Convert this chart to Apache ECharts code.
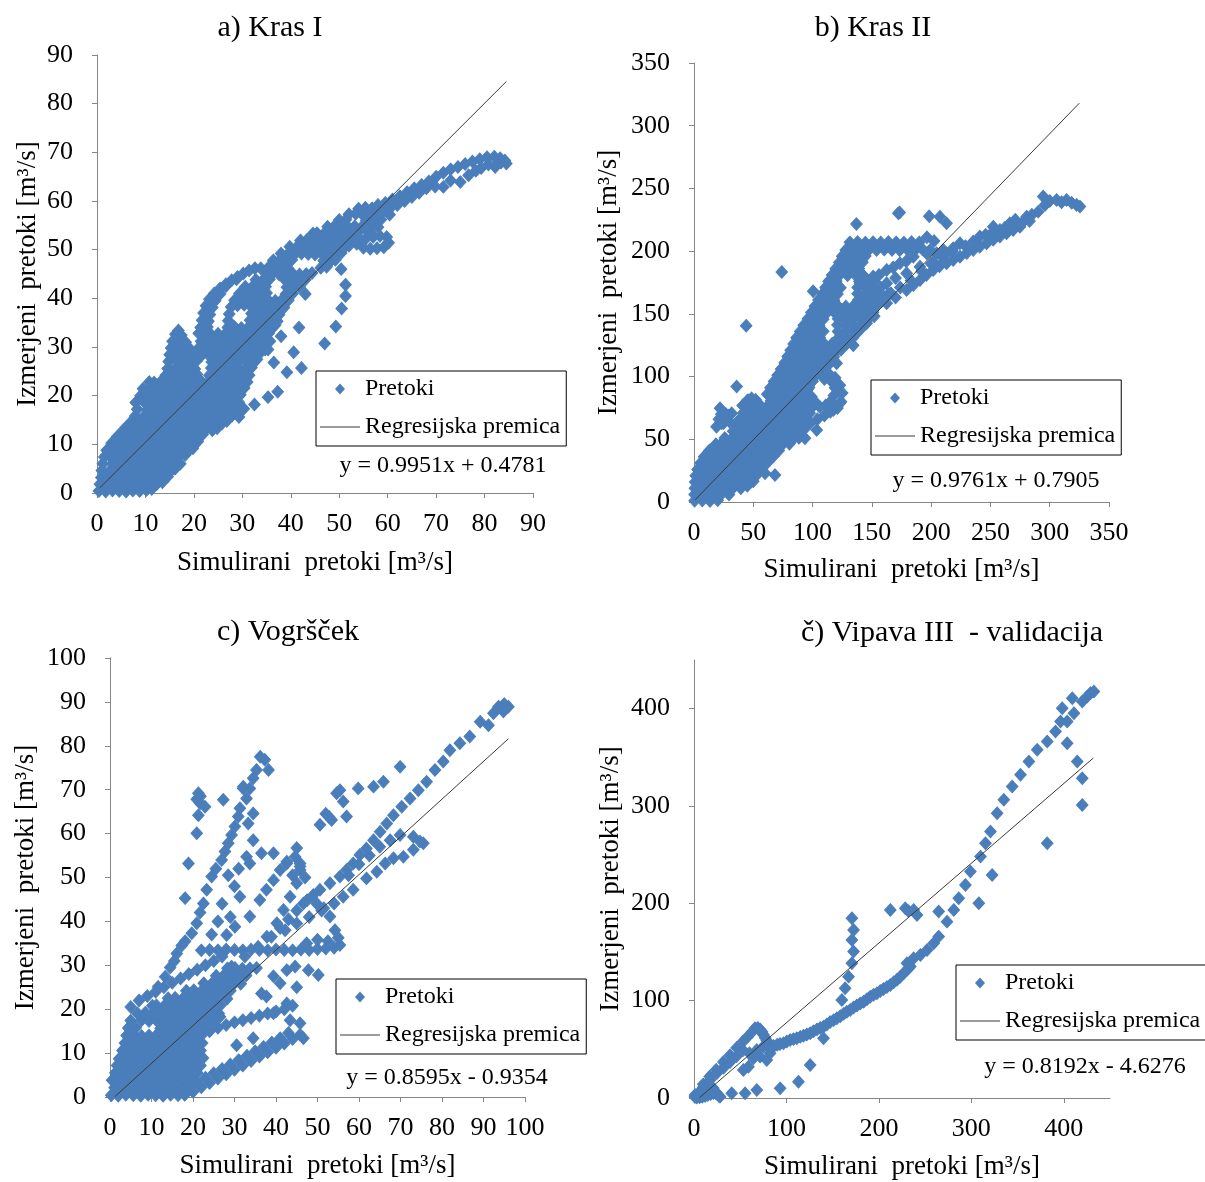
<!DOCTYPE html>
<html>
<head>
<meta charset="utf-8">
<script src="https://cdn.jsdelivr.net/npm/echarts@6/dist/echarts.min.js"></script>
<style>
  html, body { margin: 0; background: #fff; }
  #chart { width: 1205px; height: 1182px; }
</style>
</head>
<body>
<div id="chart"></div>
<script>
const krasI = [
  [0.4,0.4],[1.8,0.3],[3.2,0.5],[4.6,0.4],[6,0.3],[7.4,0.5],[8.8,0.4],[10.2,0.6],[11.3,0.8],
  [0.6,1.8],[1.3,1.6],[2.5,1.9],[3.9,1.8],[5.3,1.7],[6.7,1.9],[8.1,1.8],[9.5,1.7],[10.9,1.9],[12.3,1.8],[13.5,2.2],
  [0.9,3.2],[2,3.1],[3.4,3.3],[4.8,3.2],[6.2,3.1],[7.6,3.3],[9,3.2],[10.4,3.1],[11.8,3.3],[13.2,3.2],[14.6,3.4],
  [1,4.6],[2.6,4.5],[4,4.7],[5.4,4.6],[6.8,4.5],[8.2,4.7],[9.6,4.6],[11,4.5],[12.4,4.7],[13.8,4.6],[15.2,4.5],[16.1,5],
  [1.2,6],[3.2,6.1],[4.6,5.9],[6,6],[7.4,6.1],[8.8,5.9],[10.2,6],[11.6,6.1],[13,5.9],[14.4,6],[15.8,6.1],[17.2,6],
  [1.5,7.4],[2.9,7.3],[4.3,7.5],[5.7,7.4],[7.1,7.3],[8.5,7.5],[9.9,7.4],[11.3,7.3],[12.7,7.5],[14.1,7.4],[15.5,7.3],[16.9,7.5],[18.2,7.8],
  [2,8.8],[3.6,8.9],[5,8.7],[6.4,8.8],[7.8,8.9],[9.2,8.7],[10.6,8.8],[12,8.9],[13.4,8.7],[14.8,8.8],[16.2,8.9],[17.6,8.7],[19,8.8],[19.8,9.2],
  [3,10.2],[4.4,10.1],[5.8,10.3],[7.2,10.2],[8.6,10.1],[10,10.3],[11.4,10.2],[12.8,10.1],[14.2,10.3],[15.6,10.2],[17,10.1],[18.4,10.3],[19.8,10.2],[20.8,10.6],
  [4.2,11.6],[5.1,11.7],[6.5,11.5],[7.9,11.6],[9.3,11.7],[10.7,11.5],[12.1,11.6],[13.5,11.7],[14.9,11.5],[16.3,11.6],[17.7,11.7],[19.1,11.5],[20.5,11.6],[21.8,12],
  [5.5,13],[7,12.9],[8.4,13.1],[9.8,13],[11.2,12.9],[12.6,13.1],[14,13],[15.4,12.9],[16.8,13.1],[18.2,13],[19.6,12.9],[21,13.1],[22.4,13],[23.8,12.9],[24.8,13.3],
  [6.8,14.4],[7.6,14.5],[9,14.3],[10.4,14.4],[11.8,14.5],[13.2,14.3],[14.6,14.4],[16,14.5],[17.4,14.3],[18.8,14.4],[20.2,14.5],[21.6,14.3],[23,14.4],[24.4,14.5],[25.8,14.3],[26.8,14.8],
  [7.9,15.8],[9.7,15.7],[11.1,15.9],[12.5,15.8],[13.9,15.7],[15.3,15.9],[16.7,15.8],[18.1,15.7],[19.5,15.9],[20.9,15.8],[22.3,15.7],[23.7,15.9],[25.1,15.8],[26.5,15.7],[27.9,15.9],[29.3,15.6],
  [8.3,17.2],[10.4,17.1],[11.8,17.3],[13.2,17.2],[14.6,17.1],[16,17.3],[17.4,17.2],[18.8,17.1],[20.2,17.3],[21.6,17.2],[23,17.1],[24.4,17.3],[25.8,17.2],[27.2,17.1],[28.6,17.3],[30,17.2],
  [8,18.6],[9.7,18.7],[11.1,18.5],[12.5,18.6],[13.9,18.7],[15.3,18.5],[16.7,18.6],[18.1,18.7],[19.5,18.5],[20.9,18.6],[22.3,18.7],[23.7,18.5],[25.1,18.6],[26.5,18.7],[27.9,18.5],[29.3,18.6],
  [9,20],[10.4,20.1],[11.8,19.9],[13.2,20],[14.6,20.1],[16,19.9],[17.4,20],[18.8,20.1],[20.2,19.9],[21.6,20],[23,20.1],[24.4,19.9],[25.8,20],[27.2,20.1],[28.6,19.9],[29.6,20.2],
  [9.5,21.4],[11.1,21.5],[12.5,21.3],[13.9,21.4],[15.3,21.5],[16.7,21.3],[18.1,21.4],[19.5,21.5],[20.9,21.3],[22.3,21.4],[23.7,21.5],[25.1,21.3],[26.5,21.4],[27.9,21.5],[29.3,21.3],[30.4,21.6],
  [10.8,22.8],[11.8,22.7],[13.2,22.9],[14.6,22.8],[16,22.7],[17.4,22.9],[18.8,22.8],[20.2,22.7],[21.6,22.9],[23,22.8],[24.4,22.7],[25.8,22.9],[27.2,22.8],[28.6,22.7],[30,22.9],[31,22.8],
  [14.2,24.2],[15.4,24.1],[16.8,24.3],[18.2,24.2],[19.6,24.1],[20.6,24.4],[23.2,24.2],[24.6,24.1],[26,24.3],[27.4,24.2],[28.8,24.1],[30.2,24.3],[31.4,24.2],
  [14.6,25.6],[16,25.5],[17.4,25.7],[18.8,25.6],[20.2,25.5],[23.6,25.7],[25,25.6],[26.4,25.5],[27.8,25.7],[29.2,25.6],[30.6,25.5],[31.9,25.8],
  [14.8,27],[16.7,27.1],[18.1,26.9],[19.5,27],[20.6,27.2],[23.7,26.9],[25.1,27],[26.5,27.1],[27.9,26.9],[29.3,27],[30.7,27.1],[32.1,27],[32.8,27.3],
  [15,28.4],[16,28.5],[17.4,28.3],[18.8,28.4],[20.2,28.5],[21.6,28.3],[23,28.4],[24.4,28.5],[25.8,28.3],[27.2,28.4],[28.6,28.5],[30,28.3],[31.4,28.4],[32.8,28.5],[33.6,28.7],
  [15.3,29.8],[16.6,29.7],[18,29.9],[19.2,29.6],[21,29.8],[22.4,29.7],[23.8,29.9],[25.2,29.8],[26.6,29.7],[28,29.9],[29.4,29.8],[30.8,29.7],[32.2,29.9],[33.8,29.8],
  [15.6,31.2],[17,31.1],[18.3,31],[21.5,31.2],[22.9,31.1],[24.3,31.3],[25.7,31.2],[27.1,31.1],[28.5,31.3],[29.9,31.2],[31.3,31.1],[32.7,31.3],[34.1,31.2],[35,31.4],
  [16.2,32.6],[17.4,32.4],[21,32.8],[22.2,32.6],[23.6,32.5],[25,32.7],[26.4,32.6],[27.8,32.5],[29.2,32.7],[30.6,32.6],[32,32.5],[33.4,32.7],[34.8,32.6],[35.5,32.9],
  [16.8,33.4],
  [21.4,34],[22.8,34.1],[27,34],[28.4,34.1],[29.8,33.9],[31.2,34],[32.6,34.1],[34,33.9],[35.4,34],[36.4,34.2],
  [21.7,35.5],[23,35.3],[27.1,35.4],[31.6,35.5],[33,35.3],[34.4,35.4],[35.8,35.5],[37.2,35.3],
  [22,37],[23.3,36.7],[27.3,36.8],[31.9,36.9],[33.3,36.7],[34.7,36.8],[36.1,36.9],[37.6,36.7],
  [22.5,38.5],[23.8,38.1],[27.7,38.2],[29,38.6],[30.4,38.7],[31.8,38.3],[33.2,38.2],[34.6,38.1],[36,38.3],[37.4,38.2],[38.6,38.1],
  [23.2,39.8],[24.4,39.5],[28.4,39.6],[29.8,39.7],[31.2,39.6],[32.6,39.5],[34,39.7],[35.4,39.6],[36.8,39.5],[38.2,39.7],[39.5,39.6],
  [24.2,41],[25.4,40.9],[29.4,41],[30.8,41.1],[32.2,40.9],[33.6,41],[35,41.1],[39,40.9],[40.4,41],
  [25.4,42],[26.6,42.5],[30.6,42.4],[32,42.3],[33.4,42.5],[34.8,42.4],[39.2,42.3],[40.6,42.5],[41.8,42.4],
  [26.6,42.9],[27.8,43.7],[28.8,43.9],[32.8,43.8],[34.2,43.7],[35.6,43.9],[38.8,43.8],[40.2,43.7],[41.6,43.9],[43,43.8],
  [29,44.4],[30.2,45.1],[31.4,45.7],[32.6,46.2],[33.8,46.2],[34.8,45.4],[36.2,45.1],[37.6,44.9],[39,45],[40.4,45.1],[41.8,44.9],[43.2,45],[44.4,45.2],
  [35.6,46.6],[36.8,46.3],[38.2,46.4],[39.4,46.2],[46.2,46.3],[47.4,46.5],
  [36.4,47.8],[37.6,47.7],[39,47.6],[40.2,47.9],[46.8,47.7],[48.2,47.6],[49.2,47.9],
  [38,49.2],[39.4,49.1],[40.8,49],[42.2,49.2],[43.6,49.1],[45,49],[46.4,49.2],[47.8,49.1],[49.2,49],[50.4,49.3],
  [39.8,50.6],[41.2,50.5],[42.6,50.4],[44,50.6],[45.4,50.5],[46.8,50.4],[48.2,50.6],[49.6,50.5],[51,50.4],[52,50.8],
  [42,51.9],[43.3,52],[44.7,51.8],[46.1,51.9],[47.5,52],[48.9,51.8],[50.3,51.9],[51.7,52],[53.1,51.9],
  [44.6,53.3],[45.4,53.4],[46.8,53.2],[48.2,53.3],[49.6,53.4],[51,53.2],[52.4,53.3],[53.8,53.5],
  [47.6,54.7],[49,54.8],[50.4,54.6],[51.8,54.7],[53.2,54.8],[54.6,54.6],[55.8,54.9],
  [50,56.1],[51.4,56.2],[55.6,56],[56.8,56.2],
  [52,57.3],[53.4,57.4],[54.8,57.2],[56.2,57.3],[57.4,57.5],
  [54,58.4],[55.4,58.6],[56.8,58.5],
  [53.6,51.2],[55,50.4],[56.4,50.2],[57.8,50.3],[59.2,50.5],[60.2,51.4],[59.8,52.6],[58.4,52.8],[57,52.6],[55.6,52.4],[54.2,52.3],
  [55.5,54.2],[57,55.2],[58.6,56.2],[60.4,57.2],[56.4,53.6],[58,54.6],
  [58,59.2],[59.5,59.6],[61,60.3],[62.5,61],[64,61.8],[65.5,62.6],[67,63.3],[68.5,64],[70,65],[71.5,65.8],
  [73,66.5],[74.5,67],[76,67.6],[77.5,68.1],[79,68.6],[80.5,69],[82,69.1],[83.2,68.8],[84.2,68.3],[84.5,67.7],
  [59,57.8],[60.5,58.5],[62,59.2],[63.5,60],[65,60.8],[66.5,61.7],[68,62.6],[69.8,63],[71.5,62.9],
  [73,64.2],[75,63.9],[76.7,65.3],[78.2,66.2],[79.3,66.8],[80.8,67.5],[82.2,67],[83.4,67.9],
  [43,40.9],[50.4,46],[51.3,42.8],[51.3,40.5],[50.5,37.9],[49.3,34.2],[47,30.7],[40.6,28.9],[42.2,25.7],
  [39.2,24.8],[37.3,20.8],[35.3,19.7],[32.5,18.2],[35.3,29.5],[41.7,34],[34.7,29.5],[35.7,31.2],[30.3,17.3],
  [17.9,8.5],[33,27.5],[36.5,26.8],[38,32.2],[36.8,34.5]
];

const krasII = [
  [0.5,1],[7,1.2],[13.5,0.8],[20,1.3],
  [0.5,6],[3.5,5.8],[10,6.2],[16.5,5.9],[23,6.1],[29.5,6],
  [0.8,11],[7,11.2],[13.5,10.8],[20,11.1],[26.5,10.9],[33,11.2],[39.5,11],
  [1,16],[3.5,16.2],[10,15.8],[16.5,16.1],[23,15.9],[29.5,16.2],[36,16],[42.5,15.8],[48,16.3],
  [1.5,21],[7,21.2],[13.5,20.8],[20,21.1],[26.5,20.9],[33,21.2],[39.5,21],[46,20.8],[52.5,21.2],
  [3,26],[10.5,26.2],[17,25.8],[23.5,26.1],[30,25.9],[36.5,26.2],[43,26],[49.5,25.8],[56,26.2],
  [5.5,31],[13,31.2],[19.5,30.8],[26,31.1],[32.5,30.9],[39,31.2],[45.5,31],[52,30.8],[58.5,31.2],[62,31.5],
  [8.5,36],[16,36.2],[22.5,35.8],[29,36.1],[35.5,35.9],[42,36.2],[48.5,36],[55,35.8],[61.5,36.2],[67,36.4],
  [13,41],[19.5,41.2],[26,40.8],[32.5,41.1],[39,40.9],[45.5,41.2],[52,41],[58.5,40.8],[65,41.2],[71.5,41],
  [18.5,46],[22.8,46.2],[29.3,45.8],[35.8,46.1],[42.3,45.9],[48.8,46.2],[55.3,46],[61.8,45.8],[68.3,46.2],[74.8,46],[80.5,46.5],
  [26,51],[32.5,51.2],[39,50.8],[45.5,51.1],[52,50.9],[58.5,51.2],[65,51],[71.5,50.8],[78,51.2],[84.5,51],[88.5,51.3],
  [33,56.5],[35.8,56],[42.3,56.2],[48.8,55.8],[55.3,56.1],[61.8,55.9],[68.3,56.2],[74.8,56],[81.3,55.8],[87.8,56.2],
  [36.5,61],[39,61.2],[45.5,60.8],[52,61.1],[58.5,60.9],[65,61.2],[71.5,61],[78,60.8],[84.5,61.2],[91,61],
  [38.5,66],[42.3,66.2],[48.8,65.8],[55.3,66.1],[61.8,65.9],[68.3,66.2],[74.8,66],[81.3,65.8],[87.8,66.2],[94.3,66],
  [41.5,71],[45.5,71.2],[52,70.8],[58.5,71.1],[65,70.9],[71.5,71.2],[78,71],[84.5,70.8],[91,71.2],[97.5,71],
  [43.5,76],[48.8,76.2],[55.3,75.8],[61.8,76.1],[68.3,75.9],[74.8,76.2],[81.3,76],[87.8,75.8],[94.3,76.2],[100,76],
  [46,81],[52,81.5],[65,80.8],[71.5,81.1],[78,80.9],[84.5,81.2],[91,81],[97.5,80.8],[100.5,81.5],
  [61.8,86],[68.3,86.2],[74.8,85.8],[81.3,86.1],[87.8,85.9],[94.3,86.2],
  [64.5,91],[71,91.2],[77.5,90.8],[84,91.1],[90.5,90.9],[97,91.2],
  [67.5,96],[74,96.2],[80.5,95.8],[87,96.1],[93.5,95.9],[100,96.2],
  [70.5,101],[77,101.2],[83.5,100.8],[90,101.1],[96.5,100.9],[103,101.2],
  [73.5,106],[80,106.2],[86.5,105.8],[93,106.1],[99.5,105.9],[106,106.2],[110,106.5],
  [76.5,111],[83,111.2],[89.5,110.8],[96,111.1],[102.5,110.9],[109,111.2],[115,111],
  [79,116],[85.5,116.2],[92,115.8],[98.5,116.1],[105,115.9],[111.5,116.2],[118,116],
  [81.5,121],[88,121.2],[94.5,120.8],[101,121.1],[107.5,120.9],[114,121.2],[120.5,121],[124,121.3],
  [84,126],[90.5,126.2],[97,125.8],[103.5,126.1],[110,125.9],[116.5,126.2],[123,126],[129,126.3],
  [86.5,131],[93,131.2],[99.5,130.8],[106,131.1],[122,130.9],[128,131.2],[134,131],
  [89.5,136],[96,136.2],[102.5,135.8],[109,136.1],[121.5,135.9],[128,136.2],[134.5,136],[139,136.3],
  [92.5,141],[99,141.2],[105.5,140.8],[121,141.1],[127.5,140.9],[134,141.2],[140.5,141],[144,141.3],
  [96,146],[102.5,146.2],[109,145.8],[121.5,146.1],[128,145.9],[134.5,146.2],[141,146],[147.5,146.3],
  [99,151],[105.5,151.2],[112,150.8],[118.5,151.1],[125,150.9],[131.5,151.2],[138,151],[144.5,150.8],[151,151.2],
  [102,156],[108.5,156.2],[115,155.8],[121.5,156.1],[128,155.9],[134.5,156.2],[141,156],[147.5,155.8],[154,156.2],
  [105,161],[111.5,161.2],[118,160.8],[138.5,161.1],[145,160.9],[151.5,161.2],[158,161],
  [108.5,166],[115,166.2],[121,165.8],[138,166.1],[144.5,165.9],[151,166.2],[157.5,166],[164,165.8],
  [111,171],[117.5,171.2],[123.5,170.8],[138,171.1],[144.5,170.9],[151,171.2],[157.5,171],
  [113.5,176],[120,176.2],[139.5,175.9],[146,176.2],[152,176],
  [116.5,181],[123,181.2],[129.5,180.8],[136,181.1],[142.5,180.9],
  [119.5,186],[126,186.2],[132.5,185.8],[139,186.1],
  [122.5,191],[129,191.2],[135.5,190.8],[142,191.1],
  [125,196],[131.5,196.2],[138,195.8],[144.5,196.1],
  [128,201],[134.5,201.2],[141,200.8],[147.5,201.1],[154,200.9],[160.5,201.2],[167,201],[173.5,200.8],[180,201.2],[186.5,201],[193,201.2],[199,200.8],
  [131.5,207],[138,207.2],[144.5,206.8],[151,207.1],[157.5,206.9],[164,207.2],[170.5,207],[177,206.8],[183.5,207.2],[190,207],[196.5,211],[202.5,208],
  [140,174.4],[151.2,179.7],[162.5,185],[173.7,190.3],[185,195.6],[196.2,198.3],[145.6,163.7],[152,168],[162.5,174.4],
  [170,178.5],[179.3,182.4],[190.6,187.6],[201.8,191.6],[213,198.3],[156,181],[168,187],[179,192],
  [145.6,142.5],[152,148],[162.5,158.5],[170,163],[179.3,169],[185,173],[190.6,177],[196,181],[201.8,185],[207,188],
  [213,190.3],[218.6,193],[224.3,195.6],[230,198.5],[235.5,201],[241,203.5],[246.8,206.3],[252.4,209],[258,211.6],[263.6,214.3],[269.2,216.9],
  [150,155],[158,160],[166,166.5],[174,171],[183,176.5],[192,184],[200,190],[209,196],[218,200],
  [276.3,222],[280.5,227.5],[285,229],[290.3,231.5],[294.5,243.5],[296,236.8],[300,240],[305.8,240.8],[310,239],[314.2,240.8],
  [318.5,238.5],[322.7,236.8],[325.5,235.5],[274.9,219.5],[266.4,222.2],[258,216.9],[252.4,219.5],[251,214.3],[241.1,211.6],[235.5,207.6],
  [224.3,206.3],[218.6,202.3],[210.2,201],[204.6,198.3],[229,204],[246,213],[262,218.5],[271,225],[283,224],
  [74,183.4],[44,140.6],[36,92],[22,74.7],[31.8,70.7],[23.4,62.8],[29.2,68.8],[100.5,168],[98.9,146.7],[137,221.6],
  [173.5,230.8],[198.4,227.8],[207.4,227.5],[213,222.2],[172.3,230.2],[134.3,125],[120.3,110.6],[117.5,73.4],[123,78.7],
  [93.6,50.8],[103.5,57.4],[59.9,22.9],[68.3,21.5],[50,16.5],[45,13],
  [19,60],[21,66],[25,63],[27,70],[30,64],[23,70],
  [41,77],[45,81],[48.6,82.7],[55,78],
  [106,104],[113,103],[119,99],[123,93],[125,87],[124,80],[121,75],[115,72],[110,69],[104,66],[98,63],[93,58],[89,54],
  [96,90],[99,84],[102,79],[106,76],[111,77],[115,80],[118,85],[119,91],[116,96],[110,98]
];

const vogrscek = [
  [0.3,0.4],[2,0.3],[3.8,0.5],[5.6,0.4],[7.4,0.3],[9.2,0.5],[11,0.4],[12.8,0.3],[14.6,0.5],[16.4,0.4],[18,0.6],
  [1.1,2.1],[2.9,2.2],[4.7,2],[6.5,2.1],[8.3,2.2],[10.1,2],[11.9,2.1],[13.7,2.2],[15.5,2],[17.3,2.1],[19.1,2.3],
  [0.5,3.8],[2.2,3.9],[4,3.7],[5.8,3.8],[7.6,3.9],[9.4,3.7],[11.2,3.8],[13,3.9],[14.8,3.7],[16.6,3.8],[18.4,3.9],[20.2,4],
  [1.3,5.5],[3.1,5.6],[4.9,5.4],[6.7,5.5],[8.5,5.6],[10.3,5.4],[12.1,5.5],[13.9,5.6],[15.7,5.4],[17.5,5.5],[19.3,5.6],[21,5.5],
  [1.7,7.2],[2.2,7.3],[4,7.1],[5.8,7.2],[7.6,7.3],[9.4,7.1],[11.2,7.2],[13,7.3],[14.8,7.1],[16.6,7.2],[18.4,7.3],[20.2,7.1],[21.8,7.2],
  [2.2,8.7],[3.1,8.9],[4.9,9],[6.7,8.8],[8.5,8.9],[10.3,9],[12.1,8.8],[13.9,8.9],[15.7,9],[17.5,8.8],[19.3,8.9],[21.1,9],[22.4,8.9],
  [3,10.6],[4,10.7],[5.8,10.5],[7.6,10.6],[9.4,10.7],[11.2,10.5],[13,10.6],[14.8,10.7],[16.6,10.5],[18.4,10.6],[20.2,10.7],[21.8,10.6],
  [3.6,12.3],[4.9,12.4],[6.7,12.2],[8.5,12.3],[10.3,12.4],[12.1,12.2],[13.9,12.3],[15.7,12.4],[17.5,12.2],[19.3,12.3],[21.1,12.4],[22.2,12.3],
  [4,14],[5.8,14.1],[7.6,13.9],[9.4,14],[11.2,14.1],[13,13.9],[14.8,14],[16.6,14.1],[18.4,13.9],[20.2,14],[21.6,14.1],
  [4.4,15.7],[6.2,15.8],[12.2,15.6],[14,15.7],[15.8,15.8],[17.6,15.6],[19.4,15.7],[21.2,15.8],[23,15.6],
  [5,17.4],[7.6,17.5],[9.4,17.3],[11.2,17.4],[13,17.5],[14.8,17.3],[16.6,17.4],[18.4,17.5],[20.2,17.3],[22,17.4],[23.8,17.5],[24.8,17.2],
  [6.6,19.1],[8.5,19.2],[10.3,19],[12.1,19.1],[13.9,19.2],[15.7,19],[17.5,19.1],[19.3,19.2],[21.1,19],[22.9,19.1],[24.7,19.2],[26.2,19],
  [10.2,20.8],[11.2,20.9],[13,20.7],[14.8,20.8],[16.6,20.9],[18.4,20.7],[20.2,20.8],[22,20.9],[23.8,20.7],[25.6,20.8],[26.6,20.9],
  [14,22.5],[15.7,22.6],[17.5,22.4],[19.3,22.5],[21.1,22.6],[22.9,22.4],[24.7,22.5],[26.5,22.6],[28.2,22.4],
  [18.4,24.2],[20.2,24.3],[22,24.1],[23.8,24.2],[25.6,24.3],[27.4,24.1],[29,24.2],
  [22.6,25.9],[24.7,26],[26.5,25.8],[28.3,25.9],[30.1,26],[31.5,25.8],
  [25.6,27.6],[27.4,27.7],[29.2,27.5],[31,27.6],[32.8,27.7],
  [28.3,29.3],[30.1,29.4],[31.9,29.2],[33.7,29.3],[35.3,29.4],
  [5,20.5],[7,22],[9,23],[11,24],[13,25],[15,26],[17,27],[19,28],[21,29],[23,30],[25,31],[27,32],
  [18,0.5],[20,1.2],[22,2.2],[24,3.2],[26,4.2],[28,5.2],[30,6.2],[32,7.2],[34,8.2],[36,9.2],[38,10.2],[40,11.2],[42,12.2],[44,13.2],[45.8,14.2],
  [21,3.4],[23,4.4],[25,5.4],[27,6.4],[29,7.4],[31,8.4],[33,9.4],[35,10.4],[37,11.4],[39,12.4],[41,13.4],[43,14.6],
  [22,14],[24,15],[26,15.8],[28,16.4],[30,17],[32,17.5],[34,18],[36,18.5],[38,19],[40,19.5],[42,20],[44,20.8],
  [46.6,13.4],[45.8,16.8],[43.4,17.5],[42.6,21.3],[39.4,19.1],[37.7,22.9],[34.5,13.4],[30.5,11.8],[26.5,18.3],
  [50.2,27.8],[47.8,28.9],[44.6,29.7],[42.6,28.9],[41,25.9],[36.5,23.6],[39.4,27.5],[45,25],
  [22,33.4],[24,33.5],[26,33.4],[28,33.6],[30,33.5],[32,33.4],[34,33.6],[36,33.5],[38,33.4],[40,33.6],[42,33.5],
  [44,33.4],[46,33.6],[48,33.5],[50,33.7],[52,33.8],[54,34],[55.4,34.6],
  [54.2,38],[53,41.1],[51.5,43],[49.8,44.1],[47.5,44.8],[45,42.5],[43,40.5],[41,38.5],[55,36.3],[52.5,35.5],[50,35.8],[47.4,35],
  [29.3,29.7],[32.5,32],[35.7,34.2],[38.9,36.5],[42.2,38],[45,39.5],[48,41],[51,42.5],[54,44.1],[56.2,45.6],[58.6,47.2],
  [61.8,49.8],[64.3,51.3],[66.3,53.2],[68.3,54.4],[70.7,54.7],[73.1,56.3],[75.5,57.8],[74.7,58.2],[73.1,59.3],[69.9,59.7],
  [67.5,58.5],[65,57],[62.5,55],[60,53],[57.5,50.5],
  [46.6,44.1],[49,46],[50.6,47.2],[53,48.7],
  [55.4,50.2],[57,51.7],[58.6,53.2],[60.2,55.1],[61.8,56.6],[63.5,58.5],[65.1,60.4],[66.7,62.3],[68.3,64.2],[70.3,66.1],
  [72.3,68],[74.3,69.9],[76.3,71.8],[78.3,74.5],[80.3,76.4],[81.9,79],[84.3,80.6],[86.7,82.1],[89.2,85.5],[91.2,84.7],
  [92.4,87.4],[93.6,88.9],[94.8,87.8],[96,88.9],[95,89.5],
  [11.6,25.1],[13.3,27.4],[14.5,29.5],[15.5,31],
  [16.1,32.7],[17.3,34.5],[18.1,35.5],[19.7,37.3],[20.9,39.6],[21.7,42],[22.5,44.1],[23.3,47.2],[24.5,50.2],[25.5,52],
  [26.9,54],[27.7,55.9],[28.5,57.8],[29.3,59.7],[30.1,61.6],[30.9,63.9],[31.3,65.8],[32.9,68],[32.1,70.3],[33.7,70.3],
  [34.5,72.6],[35.3,74.5],[37.3,76.8],[38.2,74.5],[36.2,77.5],
  [34.5,64.6],[33.3,62.3],[34.5,58.5],[36.5,55.5],[32.9,54.7],[33.7,53.2],[27.3,67.7],[32.1,70.7],
  [21.3,69.2],[21.8,68.5],[21.7,66.9],[22.9,66.1],[21.3,64.2],[20.9,60.1],[18.9,53.2],[18.1,45.3],[20.9,67.8],
  [33.7,41.1],[36.1,44.9],[37.7,47.2],[39.4,49.4],[41,51.7],[42.6,53.2],[44.6,54.7],[45.8,53.2],[45.8,51.7],[45,48.7],
  [43.4,45.6],[41.8,42.6],[40.2,39.6],[37.8,36.5],[39.4,55.5],[42.6,53.6],[45,56.7],[45.8,52.5],[44,50.5],[47,50],
  [31.3,45.6],[30.1,38.8],[28.1,36.9],[29,41],[27,44],[26,40],[24.5,37],[30,48],[28.5,50.5],[31,52],
  [69.9,75.2],[65.9,71.8],[63.5,70.7],[59.8,70.3],[55.4,69.9],[54.6,69.2],[56.2,67.3],[57,63.9],[53.4,63.1],[50.6,62],[52,64.5],[52.8,63.8]
];

const vipava = [
  [1,1],[3,2.5],[5,4],[7,5.5],[9,7],[11,8],[13,9],[15,10.5],[17,12],[3,0.5],[6,0.8],[9,1.2],[12,2],[15,3],[18,4],
  [21,5],[24,4.5],[27,2],[28.2,1.4],[20.9,9.9],[24.6,4.8],[13.7,8.2],[6.5,6.5],[1.1,3.1],[10,3.5],[18,7.5],
  [10,14],[17,22],[24,29],[31.8,37],[39,44],[46.2,51.5],[53,58],[58,63],[63,68],[66,71.6],
  [6.5,6.5],[10,11],[17.3,18.5],[24.6,25.4],[32,31],[39,37],[46,43],[53,49],
  [69,72],[71.5,70.5],[73.5,68],[75.1,65],[77,62],[78.7,59],[80.5,56],
  [53.4,28.8],[58.9,32.2],[64.3,40.8],[71.5,42.5],[78.7,39],[82.3,45.9],[67.9,49.3],[75.1,52.8],[86,52.8],[60,46],
  [82.3,51],[86,53.5],[90,54.8],[93,55.5],[96.8,56.2],[100.4,58],[104,59.5],[107.6,60.5],[111.2,61.3],[115,62.8],
  [118.5,64],[122,65.3],[125.7,66.5],[129.3,68.5],[133,70.5],[136.5,72],[140.1,73.3],[143.7,75.5],[147.3,78],[151,80],
  [154.6,81.9],[158.2,84],[162,86.5],[165.4,88.5],[169,90.4],[172.6,93],[176.2,95],[179.8,97],[183.5,99],[187.1,101.5],
  [190.7,104],[194.3,106],[197.9,107.6],[201.5,110],[205,112],[208.7,114],[212.4,116.1],[216,119],[219.6,121.5],[223.2,124.5],
  [226.8,128.1],[230.4,131.5],[234,135],
  [230.4,138.4],[237.6,143.5],[244.9,147],[252.1,152.1],[259.3,159],[264.7,165.8],[273.7,181.2],[281,193.2],[286.4,205.2],
  [293.6,218.9],[299,232.6],[309.9,248],[315.3,261.7],[320.7,273.7],[327.9,292.6],[335.1,306.3],[344.2,320],[353.2,332],
  [362.3,345.7],[371.3,357.7],[382.1,366.2],[391.1,376.5],[396.5,386.8],[403.7,386.8],[398.3,400.5],[409.2,410.8],
  [411,395.3],[420,407.3],[425.4,412.5],[429,416],[432.6,417.6],
  [170.8,184.7],[172.6,172.7],[170.8,162.4],[172.6,150.4],[170.8,138.4],[167.2,124.7],[163.5,112.7],[159.9,100.7],
  [212.4,193.2],[228.6,194.9],[237.6,193.2],[241.2,188.1],[232,192],
  [264.7,191.5],[308.1,200.1],[322.5,229.2],[382.1,261.7],[420,301.1],[420,328.5],[414.6,345.7],[403.7,364.5],
  [140.1,61.3],[125.7,33.9],[113,16.8],[93.2,9.9],[67.9,8.2],[55.3,4.8],[40.8,4.8],[20.9,6.5]
];

// regression line end points
const lineKrasI = [[0.6,1.08],[84.5,84.56]];
const lineKrasII = [[1,1.77],[325,318]];
const lineVogrscek = [[1.2,0.1],[96,81.6]];
const lineVipava = [[6,0.3],[432,349.3]];

const panelTitles = ['a) Kras I', 'b) Kras II', 'c) Vogršček', 'č) Vipava III  - validacija'];
const equations = ['y = 0.9951x + 0.4781', 'y = 0.9761x + 0.7905', 'y = 0.8595x - 0.9354', 'y = 0.8192x - 4.6276'];
const axisMax = [90, 350, 100, 450];
const axisStep = [10, 50, 10, 100];
const vipavaTicks = [0, 100, 200, 300, 400];

const FONT = 'Liberation Serif';
const BLUE = '#4a7ebb';
const AXIS_GREY = '#868686';
const LINE_COLOR = '#3a3a3a';

const grids = [
  { left: 97, top: 55, width: 436, height: 438 },
  { left: 694, top: 63, width: 415, height: 439 },
  { left: 110, top: 658, width: 415, height: 439 },
  { left: 694, top: 660, width: 416, height: 438 }
];
const yNameGap = [56, 72, 71, 70];
const xNameGap = [56, 54, 55, 55];
const titlePos = [[270, 13], [873, 13], [288, 617], [952, 618]];
const eqPos = [[443, 454], [996, 469], [447, 1066], [1085, 1055]];
const legendPos = [[316, 371], [871, 380], [336, 979], [956, 965]];

const points = [krasI, krasII, vogrscek, vipava];
const lines = [lineKrasI, lineKrasII, lineVogrscek, lineVipava];

function makeAxis(i, isX) {
  const ax = {
    type: 'value',
    gridIndex: i,
    min: 0,
    max: axisMax[i],
    interval: axisStep[i],
    name: isX ? 'Simulirani  pretoki [m³/s]' : 'Izmerjeni  pretoki [m³/s]',
    nameLocation: 'middle',
    nameGap: isX ? xNameGap[i] : yNameGap[i],
    nameMoveOverlap: false,
    nameTextStyle: { fontFamily: FONT, fontSize: 27, color: '#000' },
    axisLine: { show: true, onZero: false, lineStyle: { color: AXIS_GREY, width: 1 } },
    axisTick: { show: true, inside: false, length: 5, lineStyle: { color: AXIS_GREY } },
    splitLine: { show: false },
    axisLabel: { fontFamily: FONT, fontSize: 26, color: '#000', margin: isX ? 18 : 24 }
  };
  if (i === 3) {
    ax.axisLabel.customValues = vipavaTicks;
    ax.axisTick.customValues = vipavaTicks;
  }
  return ax;
}

const chart = echarts.init(document.getElementById('chart'), null, { renderer: 'canvas' });

const option = {
  animation: false,
  backgroundColor: '#fff',
  grid: grids.map(g => Object.assign({ outerBoundsMode: 'none', containLabel: false }, g)),
  xAxis: [0, 1, 2, 3].map(i => makeAxis(i, true)),
  yAxis: [0, 1, 2, 3].map(i => makeAxis(i, false)),
  title: [
    ...panelTitles.map((t, i) => ({
      text: t, left: titlePos[i][0], top: titlePos[i][1], textAlign: 'center', padding: 0,
      textStyle: { fontFamily: FONT, fontSize: 30, fontWeight: 'normal', color: '#000' }
    })),
    ...equations.map((t, i) => ({
      text: t, left: eqPos[i][0], top: eqPos[i][1], textAlign: 'center', padding: 0,
      textStyle: { fontFamily: FONT, fontSize: 24, fontWeight: 'normal', color: '#000' }
    }))
  ],
  legend: legendPos.map(p => ({
    left: p[0], top: p[1],
    orient: 'vertical',
    selectedMode: false,
    itemWidth: 40, itemHeight: 11, itemGap: 14,
    symbolKeepAspect: true,
    padding: [6, 6, 7, 4],
    borderColor: '#000', borderWidth: 1,
    textStyle: { fontFamily: FONT, fontSize: 24, color: '#000' },
    data: [
      { name: 'Pretoki', icon: 'path://M5,0 L10,5.5 L5,11 L0,5.5 Z', itemStyle: { borderWidth: 0 } },
      { name: 'Regresijska premica', icon: 'path://M0,0 L40,0 L40,1.2 L0,1.2 Z', itemStyle: { color: LINE_COLOR, borderWidth: 0 } }
    ]
  })),
  series: [
    ...points.map((d, i) => ({
      name: 'Pretoki', type: 'scatter', xAxisIndex: i, yAxisIndex: i,
      data: d, symbol: 'diamond', symbolSize: [11.5, 12.5],
      itemStyle: { color: BLUE, borderColor: BLUE, borderWidth: 1, opacity: 1 }, z: 2
    })),
    ...lines.map((d, i) => ({
      name: 'Regresijska premica', type: 'line', xAxisIndex: i, yAxisIndex: i,
      data: d, symbol: 'none', showSymbol: false,
      lineStyle: { color: LINE_COLOR, width: 1 }, itemStyle: { color: LINE_COLOR }, z: 3
    }))
  ]
};

chart.setOption(option);
</script>
</body>
</html>
